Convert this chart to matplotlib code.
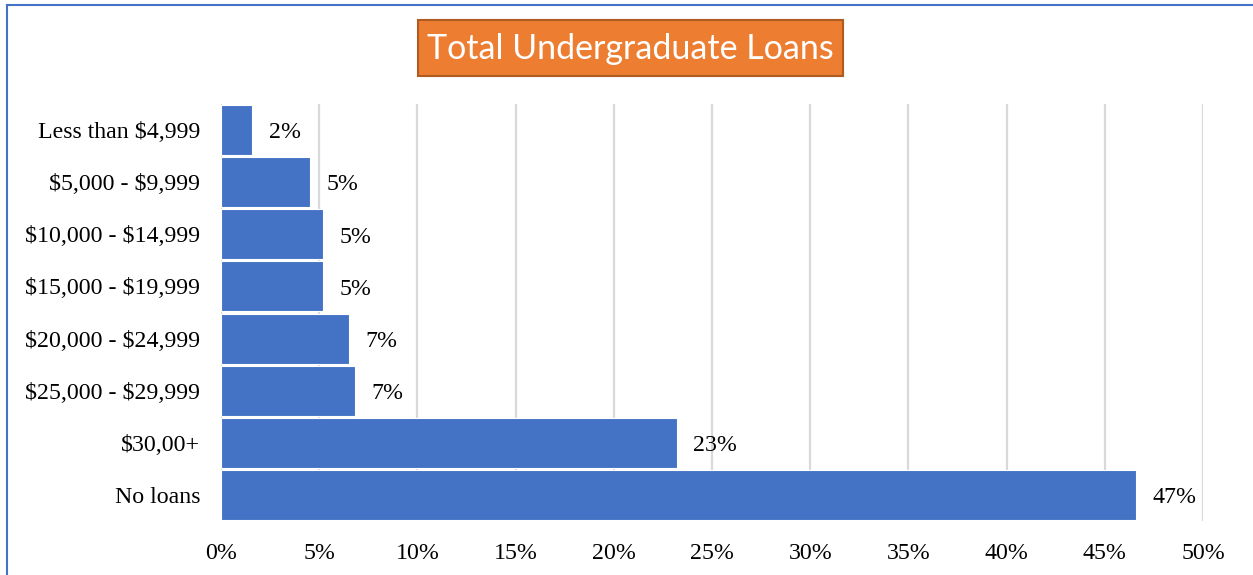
import matplotlib.pyplot as plt
from matplotlib.patches import Rectangle
from matplotlib.lines import Line2D

plt.rcParams['text.parse_math'] = False

categories = ["Less than $4,999", "$5,000 - $9,999", "$10,000 - $14,999",
              "$15,000 - $19,999", "$20,000 - $24,999", "$25,000 - $29,999",
              "$30,00+", "No loans"]
shares = [1.58, 4.53, 5.18, 5.18, 6.52, 6.82, 23.2, 46.6]
xticks = [0, 5, 10, 15, 20, 25, 30, 35, 40, 45, 50]

W, H = 1253, 575
fig = plt.figure(figsize=(W / 100, H / 100), dpi=100)
ax = fig.add_axes([221 / W, 1 - 521 / H, (1203 - 221) / W, (521 - 104) / H])

serif = "Liberation Serif"
blue = "#4472C4"
fs = 17.2

ypos = list(range(len(categories)))
ax.barh(ypos, shares, height=0.96, color=blue, edgecolor="white",
        linewidth=0.8, zorder=3)
for y, v in zip(ypos, shares):
    ax.annotate("{:.0f}%".format(v), xy=(v, y), xytext=(12, -2),
                textcoords="offset points", ha="left", va="center",
                fontsize=fs, family=serif, color="black")

ax.set_ylim(len(categories) - 0.5, -0.5)
ax.set_xlim(0, 50)
ax.set_yticks(ypos)
ax.set_yticklabels(categories, fontsize=fs, family=serif)
ax.set_xticks(xticks)
ax.set_xticklabels(["{}%".format(t) for t in xticks], fontsize=fs,
                   family=serif)
ax.tick_params(axis="both", length=0)
ax.tick_params(axis="y", pad=15)
ax.tick_params(axis="x", pad=16)
ax.grid(axis="x", color="#D9D9D9", linewidth=1.6, zorder=0)
for s in ax.spines.values():
    s.set_visible(False)

# title box
fig.patches.append(Rectangle((418 / W, 1 - 76 / H), (843 - 418) / W, 56 / H,
                             transform=fig.transFigure, facecolor="#ED7D31",
                             edgecolor="#AE5A21", linewidth=1.5))
fig.text(630.5 / W, 1 - 49 / H, "Total Undergraduate Loans", ha="center",
         va="center", color="white", fontsize=24.5, family="Lato")

# chart frame (only top and left edges fall inside the image)
fig.lines.append(Line2D([7 / W, 1], [1 - 5 / H, 1 - 5 / H],
                        transform=fig.transFigure, color=blue, linewidth=1.5))
fig.lines.append(Line2D([7 / W, 7 / W], [0, 1 - 5 / H],
                        transform=fig.transFigure, color=blue, linewidth=1.5))

fig.savefig("out.png", dpi=100)
